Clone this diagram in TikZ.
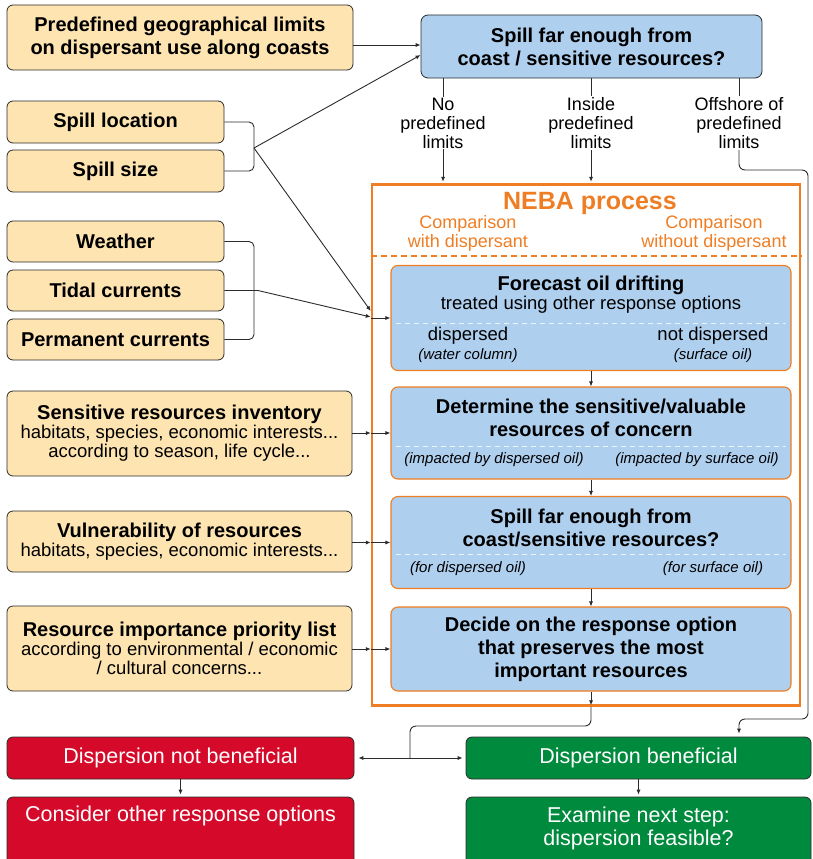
\documentclass[tikz,border=0pt]{standalone}
\usepackage{fontspec}
\setmainfont{Liberation Sans}
\usetikzlibrary{arrows.meta,calc}

\definecolor{peach}{HTML}{FDE4B1}
\definecolor{skyfill}{HTML}{AFCFEE}
\definecolor{nebaorange}{HTML}{EF7D23}
\definecolor{badred}{HTML}{D50A2A}
\definecolor{goodgreen}{HTML}{008A3D}
\definecolor{edgegray}{HTML}{2B2B2B}

\newcommand\fhead{\fontsize{20}{23}\selectfont\bfseries}
\newcommand\fsub{\fontsize{18.5}{19}\selectfont\mdseries}
\newcommand\flab{\fontsize{18}{19}\selectfont\mdseries}
\newcommand\fital{\fontsize{15}{16}\selectfont\mdseries\itshape}
\newcommand\fneba{\fontsize{25}{28}\selectfont\bfseries}
\newcommand\fwhite{\fontsize{21.5}{23}\selectfont}

\begin{document}
\begin{tikzpicture}[x=1pt,y=-1pt,
  inbox/.style={draw=edgegray, fill=peach, line width=0.8pt, rounded corners=6pt,
    inner sep=2pt, align=center, font=\fhead},
  askbox/.style={draw=edgegray, fill=skyfill, line width=0.8pt, rounded corners=7pt,
    inner sep=2pt, align=center, font=\fhead},
  stepbox/.style={draw=nebaorange, fill=skyfill, line width=1.1pt, rounded corners=7pt,
    inner sep=2pt, align=center, font=\fhead},
  redbox/.style={draw=edgegray, fill=badred, line width=0.8pt, rounded corners=6pt,
    inner sep=2pt, align=center, text=white, font=\fwhite},
  greenbox/.style={draw=edgegray, fill=goodgreen, line width=0.8pt, rounded corners=6pt,
    inner sep=2pt, align=center, text=white, font=\fwhite},
  txt/.style={inner sep=1pt, align=center},
  conn/.style={draw=edgegray, line width=0.9pt},
  arr/.style={conn, -{Latex[length=5pt,width=4.2pt]}},
  sep/.style={draw=white!75!skyfill, line width=0.9pt, dash pattern=on 5pt off 4pt},
]
\useasboundingbox (0,0) rectangle (813,859);
\clip (0,0) rectangle (813,859);

% ---------- inputs on the left ----------
\node[inbox, minimum width=346pt, minimum height=65pt] (pre) at (180,37.5)
  {Predefined geographical limits\\on dispersant use along coasts};
\node[inbox, minimum width=217pt, minimum height=42pt] (loc) at (115.5,122) {Spill location};
\node[inbox, minimum width=217pt, minimum height=42pt] (size) at (115.5,171) {Spill size};
\node[inbox, minimum width=217pt, minimum height=41pt] (wea) at (115.5,241.5) {Weather};
\node[inbox, minimum width=217pt, minimum height=41pt] (tid) at (115.5,290.5) {Tidal currents};
\node[inbox, minimum width=217pt, minimum height=41pt] (perm) at (115.5,339.5) {Permanent currents};
\node[inbox, font=\fsub, minimum width=345pt, minimum height=85pt] (sens) at (179.5,433.5)
  {{\fhead Sensitive resources inventory}\\habitats, species, economic interests...\\according to season, life cycle...};
\node[inbox, font=\fsub, minimum width=345pt, minimum height=61pt] (vuln) at (179.5,541.5)
  {{\fhead Vulnerability of resources}\\habitats, species, economic interests...};
\node[inbox, font=\fsub, minimum width=345pt, minimum height=85pt] (prio) at (179.5,648.5)
  {{\fhead Resource importance priority list}\\according to environmental / economic\\/ cultural concerns...};

% ---------- first question ----------
\node[askbox, minimum width=341pt, minimum height=63pt] (top) at (591.5,46.5)
  {Spill far enough from\\coast / sensitive resources?};
\node[txt, font=\flab] (lab1) at (443,123) {No\\predefined\\limits};
\node[txt, font=\flab] (lab2) at (591,123) {Inside\\predefined\\limits};
\node[txt, font=\flab] (lab3) at (739,123) {Offshore of\\predefined\\limits};

% ---------- NEBA frame ----------
\node[draw=nebaorange, line width=2.5pt, minimum width=428pt, minimum height=521pt,
  inner sep=0pt] (neba) at (586,445) {};
\node[txt, font=\fneba, text=nebaorange] (nebaT) at (590,203) {NEBA process};
\node[txt, font=\flab, text=nebaorange] (withD) at (468,233) {Comparison\\with dispersant};
\node[txt, font=\flab, text=nebaorange] (withoutD) at (714,233) {Comparison\\without dispersant};
\draw[draw=nebaorange, line width=1.1pt, dash pattern=on 6pt off 4pt]
  (neba.west |- 0,256) -- (neba.east |- 0,256);

% ---------- NEBA steps ----------
\node[stepbox, minimum width=400pt, minimum height=105pt] (fc) at (591,318) {};
\node[txt, font=\fsub] (fcT) at (591,295) {{\fhead Forecast oil drifting}\\treated using other response options};
\draw[sep] ([xshift=6pt]fc.west |- 0,323) -- ([xshift=-6pt]fc.east |- 0,323);
\node[txt, font=\fsub] (fcL) at (468,345) {dispersed\\{\fital (water column)}};
\node[txt, font=\fsub] (fcR) at (713,345) {not dispersed\\{\fital (surface oil)}};

\node[stepbox, minimum width=400pt, minimum height=92pt] (det) at (591,433) {};
\node[txt, font=\fhead] (detT) at (591,418) {Determine the sensitive/valuable\\resources of concern};
\draw[sep] ([xshift=6pt]det.west |- 0,446) -- ([xshift=-6pt]det.east |- 0,446);
\node[txt, font=\fital] (detL) at (494,460) {(impacted by dispersed oil)};
\node[txt, font=\fital] (detR) at (697,460) {(impacted by surface oil)};

\node[stepbox, minimum width=400pt, minimum height=92pt] (far) at (591,542.5) {};
\node[txt, font=\fhead] (farT) at (591,527.5) {Spill far enough from\\coast/sensitive resources?};
\draw[sep] ([xshift=6pt]far.west |- 0,554) -- ([xshift=-6pt]far.east |- 0,554);
\node[txt, font=\fital] (farL) at (468,569) {(for dispersed oil)};
\node[txt, font=\fital] (farR) at (713,569) {(for surface oil)};

\node[stepbox, minimum width=400pt, minimum height=84pt] (dec) at (591,649)
  {Decide on the response option\\that preserves the most\\important resources};

% ---------- outcomes ----------
\node[redbox, minimum width=347pt, minimum height=42pt] (nb) at (180.5,758) {Dispersion not beneficial};
\node[redbox, minimum width=347pt, minimum height=80pt] (cons) at (180.5,837) {};
\node[txt, font=\fwhite, text=white] (consT) at (180.5,816) {Consider other response options};
\node[greenbox, minimum width=345pt, minimum height=42pt] (ben) at (638.5,758) {Dispersion beneficial};
\node[greenbox, minimum width=345pt, minimum height=80pt] (exam) at (638.5,837) {};
\node[txt, font=\fwhite, text=white] (examT) at (638.5,828.5) {Examine next step:\\dispersion feasible?};

% ---------- connectors ----------
\draw[arr] (pre.east |- 0,45) -- (top.west |- 0,45);

\coordinate (j1) at (254,148);
\draw[conn, rounded corners=5pt] (loc.east) -- (254,122) -- (254,171) -- (size.east);
\draw[arr] (j1) -- (top.west |- 0,55);
\draw[arr] (j1) -- (neba.west |- 0,311);

\draw[conn, rounded corners=5pt] (wea.east) -- (254,241.5) -- (254,339.5) -- (perm.east);
\draw[arr] (tid.east) -- (258,290.5) -- (neba.west |- 0,317);
\draw[arr] (neba.west |- fc.west) -- (fc.west);

\draw[arr] (sens.east |- det.west) -- (neba.west |- det.west);
\draw[arr] (neba.west |- det.west) -- (det.west);
\draw[arr] (vuln.east |- far.west) -- (neba.west |- far.west);
\draw[arr] (neba.west |- far.west) -- (far.west);
\draw[arr] (prio.east |- dec.west) -- (neba.west |- dec.west);
\draw[arr] (neba.west |- dec.west) -- (dec.west);

\draw[conn] (top.south -| lab1) -- (lab1.north);
\draw[conn] (top.south -| lab2) -- (lab2.north);
\draw[conn] (top.south -| lab3) -- (lab3.north);
\draw[arr] (lab1.south) -- ([yshift=1.5pt]lab1.south |- neba.north);
\draw[arr] (lab2.south) -- ([yshift=1.5pt]lab2.south |- neba.north);
\draw[arr, rounded corners=6pt] (lab3.south) |- (808,170) -- (808,719) -| ([yshift=3pt]ben.north -| lab3.south);

\draw[arr] (fc.south) -- (det.north);
\draw[arr] (det.south) -- (far.north);
\draw[arr] (far.south) -- (dec.north);
\draw[arr] (dec.south) -- ([yshift=1.5pt]dec.south |- neba.south);

\coordinate (split) at (410,758);
\draw[conn, rounded corners=6pt] (dec.south |- neba.south) -- (591,726) -- (410,726) -- (split);
\draw[arr] (split) -- ([xshift=4pt]nb.east);
\draw[arr] (split) -- ([xshift=-3pt]ben.west);
\draw[arr] (nb.south) -- ([yshift=2pt]cons.north);
\draw[arr] (ben.south) -- ([yshift=2pt]exam.north);
\end{tikzpicture}
\end{document}
